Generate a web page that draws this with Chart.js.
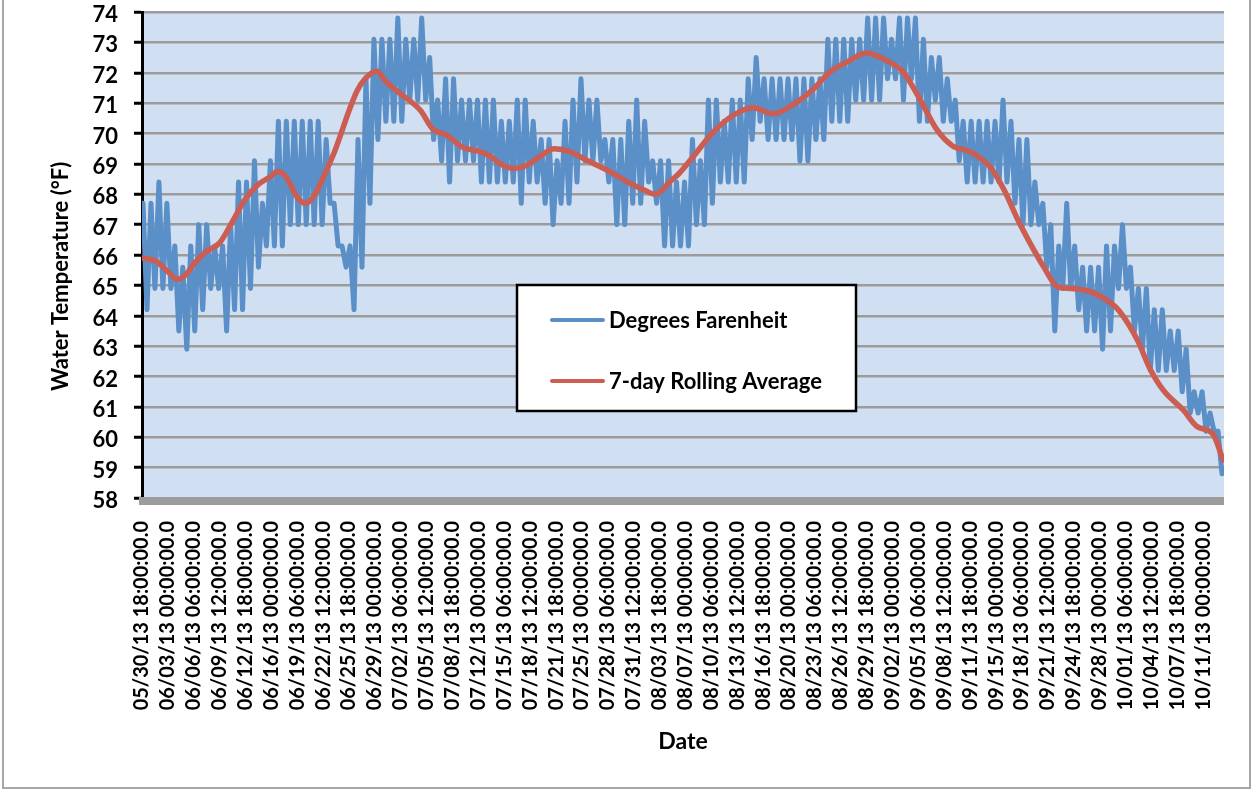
<!DOCTYPE html>
<html>
<head>
<meta charset="utf-8">
<title>Water Temperature</title>
<script src="https://cdn.jsdelivr.net/npm/chart.js@4.4.1/dist/chart.umd.min.js"></script>
<style>
  html, body { margin: 0; padding: 0; background: #ffffff; overflow: hidden; }
  #wrap { position: relative; width: 1252px; height: 789px; }
  #frame { position: absolute; left: 2px; top: -10px; width: 1249px; height: 799px;
           border: 2px solid #a6a6a6; box-sizing: border-box; pointer-events: none; }
  canvas { display: block; }
</style>
</head>
<body>
<div id="wrap">
  <canvas id="chart" width="1252" height="789"></canvas>
  <div id="frame"></div>
</div>
<script>
// Category labels along the date axis, one every 78 hours from the first reading
const tickLabels = [
  '05/30/13 18:00:00.0', '06/03/13 00:00:00.0', '06/06/13 06:00:00.0', '06/09/13 12:00:00.0',
  '06/12/13 18:00:00.0', '06/16/13 00:00:00.0', '06/19/13 06:00:00.0', '06/22/13 12:00:00.0',
  '06/25/13 18:00:00.0', '06/29/13 00:00:00.0', '07/02/13 06:00:00.0', '07/05/13 12:00:00.0',
  '07/08/13 18:00:00.0', '07/12/13 00:00:00.0', '07/15/13 06:00:00.0', '07/18/13 12:00:00.0',
  '07/21/13 18:00:00.0', '07/25/13 00:00:00.0', '07/28/13 06:00:00.0', '07/31/13 12:00:00.0',
  '08/03/13 18:00:00.0', '08/07/13 00:00:00.0', '08/10/13 06:00:00.0', '08/13/13 12:00:00.0',
  '08/16/13 18:00:00.0', '08/20/13 00:00:00.0', '08/23/13 06:00:00.0', '08/26/13 12:00:00.0',
  '08/29/13 18:00:00.0', '09/02/13 00:00:00.0', '09/05/13 06:00:00.0', '09/08/13 12:00:00.0',
  '09/11/13 18:00:00.0', '09/15/13 00:00:00.0', '09/18/13 06:00:00.0', '09/21/13 12:00:00.0',
  '09/24/13 18:00:00.0', '09/28/13 00:00:00.0', '10/01/13 06:00:00.0', '10/04/13 12:00:00.0',
  '10/07/13 18:00:00.0', '10/11/13 00:00:00.0'
];
const tickStepHours = 78;      // spacing of the labels above, in hours
const lastHour = 3261;         // hours from 05/30/13 18:00 to the last reading

// Daily high and low readings (°F), one entry per day from 05/30/13 18:00
const dailyHigh = [
  67.7, 67.7, 68.4, 67.7, 66.3, 65.6, 66.3, 67.0, 67.0, 66.3,
  66.3, 67.0, 68.4, 68.4, 69.1, 67.7, 69.1, 70.4, 70.4, 70.4,
  70.4, 70.4, 70.4, 69.8, 67.7, 66.3, 66.3, 69.8, 71.8, 73.1,
  73.1, 73.1, 73.8, 73.1, 73.1, 73.8, 72.5, 71.1, 71.8, 71.8,
  71.1, 71.1, 71.1, 71.1, 71.1, 70.4, 70.4, 71.1, 71.1, 70.4,
  69.8, 69.8, 69.1, 70.4, 71.1, 71.8, 71.1, 71.1, 69.8, 69.8,
  69.8, 70.4, 71.1, 70.4, 69.1, 69.1, 69.1, 68.4, 68.4, 69.8,
  69.1, 71.1, 71.1, 70.4, 71.1, 71.1, 71.8, 72.5, 71.8, 71.8,
  71.8, 71.8, 71.8, 71.8, 71.8, 71.8, 73.1, 73.1, 73.1, 73.1,
  73.1, 73.8, 73.8, 73.8, 73.1, 73.8, 73.8, 73.8, 73.1, 72.5,
  72.5, 71.8, 71.1, 70.4, 70.4, 70.4, 70.4, 70.4, 71.1, 70.4,
  69.8, 69.8, 68.4, 67.7, 67.0, 66.3, 67.7, 66.3, 65.6, 65.6,
  65.6, 66.3, 66.3, 67.0, 65.6, 64.9, 64.9, 64.2, 64.2, 63.5,
  63.5, 62.9, 61.5, 61.5, 60.8, 60.2
];
const dailyLow = [
  64.2, 64.9, 64.9, 64.9, 63.5, 62.9, 63.5, 64.2, 64.9, 64.9,
  63.5, 64.2, 64.2, 64.9, 65.6, 66.3, 66.3, 66.3, 67.0, 67.0,
  67.0, 67.0, 67.0, 67.7, 66.3, 65.6, 64.2, 65.6, 67.7, 69.8,
  70.4, 70.4, 70.4, 71.1, 71.1, 71.1, 69.8, 69.1, 68.4, 69.1,
  69.1, 69.1, 68.4, 68.4, 68.4, 68.4, 68.4, 67.7, 68.4, 68.4,
  67.7, 67.0, 67.7, 67.7, 68.4, 69.1, 69.1, 69.1, 68.4, 67.0,
  67.0, 67.7, 67.7, 68.4, 67.7, 66.3, 66.3, 66.3, 66.3, 67.0,
  67.0, 67.7, 68.4, 68.4, 68.4, 68.4, 69.8, 70.4, 69.8, 69.8,
  69.8, 69.8, 69.1, 69.1, 69.8, 69.8, 70.4, 70.4, 70.4, 71.1,
  71.1, 71.1, 71.1, 71.8, 71.8, 71.1, 71.8, 70.4, 70.4, 71.1,
  70.4, 70.4, 69.1, 68.4, 68.4, 68.4, 68.4, 68.4, 68.4, 67.7,
  67.0, 67.0, 67.0, 65.6, 63.5, 64.9, 64.9, 64.2, 63.5, 63.5,
  62.9, 63.5, 64.9, 64.9, 63.5, 62.9, 62.2, 62.2, 62.2, 62.2,
  61.5, 60.8, 60.8, 60.2, 60.2, 58.8
];

// 7-day rolling average (°F) at the given hour offsets
const avgHours = [
  0, 42, 78, 108, 132, 156, 192, 234, 270, 312,
  348, 390, 408, 432, 468, 492, 522, 546, 582, 624,
  648, 672, 708, 732, 762, 786, 840, 876, 918, 966,
  1020, 1050, 1080, 1120, 1158, 1200, 1242, 1290, 1344, 1392,
  1434, 1464, 1512, 1548, 1590, 1620, 1662, 1722, 1782, 1842,
  1902, 1962, 2022, 2076, 2124, 2184, 2244, 2292, 2346, 2394,
  2442, 2496, 2556, 2598, 2640, 2676, 2718, 2760, 2796, 2856,
  2916, 2946, 3000, 3036, 3078, 3138, 3180, 3228, 3258
];
const avgTemps = [
  65.9, 65.8, 65.45, 65.2, 65.35, 65.7, 66.1, 66.4, 67.05, 67.85,
  68.3, 68.6, 68.75, 68.6, 67.9, 67.7, 68.0, 68.55, 69.45, 70.75,
  71.4, 71.8, 72.05, 71.75, 71.45, 71.25, 70.75, 70.15, 69.95, 69.55,
  69.4, 69.25, 69.0, 68.85, 68.95, 69.25, 69.5, 69.4, 69.1, 68.85,
  68.6, 68.4, 68.15, 68.0, 68.4, 68.7, 69.25, 70.05, 70.6, 70.85,
  70.65, 70.95, 71.45, 72.05, 72.35, 72.65, 72.4, 72.05, 71.1, 70.15,
  69.6, 69.4, 68.9, 68.15, 67.15, 66.4, 65.6, 64.95, 64.9, 64.8,
  64.45, 64.15, 63.2, 62.3, 61.55, 60.9, 60.35, 60.1, 59.25
];

const seriesNames = ['Degrees Farenheit', '7-day Rolling Average'];

// Each day contributes its high reading (evening) and its low reading (morning)
const hourlyPoints = [];
dailyHigh.forEach((hi, d) => {
  hourlyPoints.push({ x: d * 24 + 3, y: hi });
  hourlyPoints.push({ x: d * 24 + 15, y: dailyLow[d] });
});
const averagePoints = avgHours.map((h, i) => ({ x: h, y: avgTemps[i] }));

const FONT = 'Lato';

// Light blue plot area
const plotBackground = {
  id: 'plotBackground',
  beforeDraw(chart) {
    const { ctx, chartArea: a } = chart;
    ctx.save();
    ctx.fillStyle = '#d0e0f2';
    ctx.fillRect(a.left, a.top, a.right - a.left, a.bottom - a.top);
    ctx.restore();
  }
};

// Thick grey floor line under the plot area
const floorBand = {
  id: 'floorBand',
  afterDatasetsDraw(chart) {
    const { ctx, chartArea: a } = chart;
    ctx.save();
    ctx.fillStyle = '#9c9c9c';
    ctx.fillRect(a.left - 3, a.bottom - 1, a.right - a.left + 3, 8);
    ctx.restore();
  }
};

// Boxed legend floating inside the plot area
const boxedLegend = {
  id: 'boxedLegend',
  afterDraw(chart) {
    const { ctx, chartArea: a } = chart;
    const x = a.left + 375, y = a.top + 273, w = 339, h = 126;
    ctx.save();
    ctx.fillStyle = '#ffffff';
    ctx.fillRect(x, y, w, h);
    ctx.lineWidth = 2.5;
    ctx.strokeStyle = '#000000';
    ctx.strokeRect(x, y, w, h);
    const rows = [y + 35, y + 96];
    const order = [1, 0];
    rows.forEach((ry, r) => {
      const ds = chart.data.datasets[order[r]];
      ctx.beginPath();
      ctx.lineCap = 'round';
      ctx.lineWidth = 4;
      ctx.strokeStyle = ds.borderColor;
      ctx.moveTo(x + 35, ry);
      ctx.lineTo(x + 86, ry);
      ctx.stroke();
      ctx.fillStyle = '#000000';
      ctx.font = 'bold 22px ' + FONT;
      ctx.textBaseline = 'middle';
      ctx.textAlign = 'left';
      ctx.fillText(ds.label, x + 92, ry + 1);
    });
    ctx.restore();
  }
};

new Chart(document.getElementById('chart'), {
  type: 'line',
  data: {
    datasets: [
      {
        label: seriesNames[1],
        data: averagePoints,
        borderColor: '#cb5d53',
        borderWidth: 5.5,
        pointRadius: 0,
        cubicInterpolationMode: 'monotone',
        borderCapStyle: 'round',
        borderJoinStyle: 'round',
        order: 1
      },
      {
        label: seriesNames[0],
        data: hourlyPoints,
        borderColor: '#5b8fc8',
        borderWidth: 5,
        pointRadius: 0,
        tension: 0,
        borderCapStyle: 'round',
        borderJoinStyle: 'round',
        order: 2
      }
    ]
  },
  options: {
    responsive: false,
    animation: false,
    devicePixelRatio: 1,
    layout: { padding: { top: 12, right: 28, bottom: 0, left: 0 } },
    plugins: {
      legend: { display: false },
      tooltip: { enabled: false }
    },
    scales: {
      x: {
        type: 'linear',
        min: 0,
        max: lastHour,
        afterBuildTicks: s => { s.ticks = tickLabels.map((_, i) => ({ value: i * tickStepHours })); },
        afterFit: s => { s.height = 291; },
        grid: { display: false, drawTicks: false },
        border: { display: false },
        ticks: {
          autoSkip: false,
          minRotation: 90,
          maxRotation: 90,
          padding: 23,
          color: '#000000',
          font: { family: FONT, size: 20, weight: 'bold' },
          callback: (v, i) => tickLabels[i]
        },
        title: {
          display: true,
          text: 'Date',
          color: '#000000',
          font: { family: FONT, size: 23, weight: 'bold' },
          padding: { top: 0, bottom: 34 }
        }
      },
      y: {
        min: 58,
        max: 74,
        afterFit: s => { s.width = 142; s.paddingTop = 0; s.paddingBottom = 0; },
        grid: { color: '#9c9c9c', lineWidth: 2.5, tickColor: '#000000', tickWidth: 3, tickLength: 8 },
        border: { color: '#000000', width: 3 },
        ticks: {
          stepSize: 1,
          padding: 16,
          labelOffset: 3,
          color: '#000000',
          font: { family: FONT, size: 22, weight: 'bold' }
        },
        title: {
          display: true,
          text: 'Water Temperature (°F)        ',
          color: '#000000',
          font: { family: FONT, size: 22, weight: 'bold' },
          padding: { top: 48, bottom: 0 }
        }
      }
    }
  },
  plugins: [plotBackground, floorBand, boxedLegend]
});
</script>
</body>
</html>
